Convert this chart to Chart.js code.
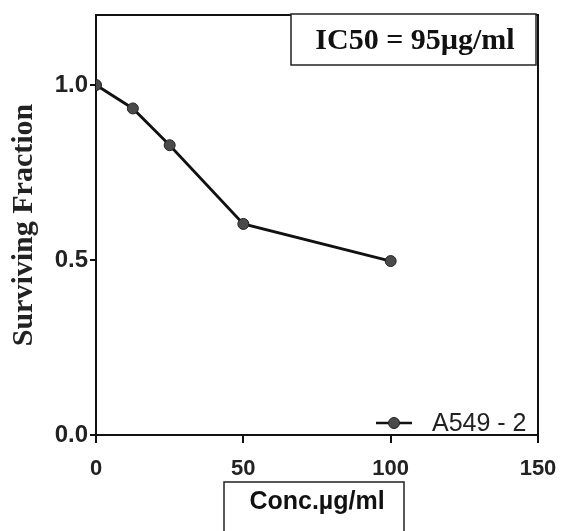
<!DOCTYPE html>
<html lang="en">
<head>
    <meta charset="UTF-8">
    <title>Surviving Fraction - A549</title>
    <script src="https://cdn.jsdelivr.net/npm/chart.js"></script>
    <style>
body {
    margin: 0;
    background: #fff;
}
.wrap {
    width: 562px;
    height: 531px;
}
    </style>
</head>
<body>
    <div class="wrap">
        <canvas id="survChart" width="562" height="531"></canvas>
    </div>
    <script>
        // data
        const conc = [0, 12.5, 25, 50, 100];
        const surviving = [1.0, 0.933, 0.828, 0.603, 0.497];
        const xTicks = [0, 50, 100, 150];
        const yTicks = [0.0, 0.5, 1.0];
        const seriesName = 'A549 - 2';
        const ic50Text = 'IC50 = 95\u00b5g/ml';
        const xTitle = 'Conc.\u00b5g/ml';
        const yTitle = 'Surviving Fraction';

        // frame, IC50 box, box round the x title, and the legend inside the plot
        const extras = {
            id: 'extras',
            afterDraw(chart) {
                const ctx = chart.ctx;
                const a = chart.chartArea;
                ctx.save();
                ctx.strokeStyle = '#111';
                ctx.lineWidth = 2;
                // top + right frame
                ctx.beginPath();
                ctx.moveTo(a.left, a.top);
                ctx.lineTo(a.right, a.top);
                ctx.lineTo(a.right, a.bottom);
                ctx.stroke();

                // IC50 box
                ctx.fillStyle = '#fff';
                ctx.fillRect(291, 14, 245, 51);
                ctx.lineWidth = 1.5;
                ctx.strokeStyle = '#222';
                ctx.strokeRect(291, 14, 245, 51);
                ctx.fillStyle = '#111';
                ctx.font = 'bold 30px "Liberation Serif", "Times New Roman", serif';
                ctx.textAlign = 'center';
                ctx.textBaseline = 'middle';
                ctx.fillText(ic50Text, 415, 41);

                // box round x title
                ctx.strokeStyle = '#222';
                ctx.lineWidth = 1.5;
                ctx.strokeRect(224, 482, 180, 60);

                // legend
                const ds = chart.data.datasets[0];
                const ly = 423;
                ctx.strokeStyle = ds.borderColor;
                ctx.lineWidth = 2.5;
                ctx.beginPath();
                ctx.moveTo(376, ly);
                ctx.lineTo(412, ly);
                ctx.stroke();
                ctx.beginPath();
                ctx.arc(394, ly, 5.5, 0, Math.PI * 2);
                ctx.fillStyle = ds.pointBackgroundColor;
                ctx.fill();
                ctx.lineWidth = 1;
                ctx.strokeStyle = ds.pointBorderColor;
                ctx.stroke();
                ctx.fillStyle = '#222';
                ctx.font = '25px "Liberation Sans", Arial, sans-serif';
                ctx.textAlign = 'left';
                ctx.fillText(ds.label, 432, ly + 1);
                ctx.restore();
            }
        };

        const ctx = document.getElementById('survChart').getContext('2d');
        new Chart(ctx, {
            type: 'scatter',
            data: {
                datasets: [{
                    label: seriesName,
                    data: conc.map((x, i) => ({ x: x, y: surviving[i] })),
                    showLine: true,
                    borderColor: '#111',
                    borderWidth: 2.8,
                    pointRadius: 5.5,
                    pointBackgroundColor: '#4a4a4a',
                    pointBorderColor: '#222',
                    pointBorderWidth: 1
                }]
            },
            options: {
                responsive: false,
                animation: false,
                layout: { padding: { top: 15, right: 24, left: 0, bottom: 0 } },
                plugins: {
                    legend: { display: false },
                    tooltip: { enabled: false }
                },
                scales: {
                    x: {
                        type: 'linear',
                        min: 0,
                        max: 150,
                        afterFit: s => { s.height = 96; s.paddingLeft = 0; s.paddingRight = 0; },
                        afterBuildTicks: s => { s.ticks = xTicks.map(v => ({ value: v })); },
                        grid: { drawOnChartArea: false, color: '#111', tickLength: 8, lineWidth: 2 },
                        border: { color: '#111', width: 2 },
                        ticks: {
                            color: '#222',
                            padding: 13,
                            font: { family: '"Liberation Sans", Arial, sans-serif', size: 22, weight: 'bold' }
                        },
                        title: {
                            display: true,
                            text: xTitle,
                            color: '#111',
                            padding: { top: 0, bottom: 14 },
                            font: { family: '"Liberation Sans", Arial, sans-serif', size: 25, weight: 'bold' }
                        }
                    },
                    y: {
                        min: 0,
                        max: 1.2,
                        afterFit: s => { s.width = 96; s.paddingTop = 0; s.paddingBottom = 0; },
                        afterBuildTicks: s => { s.ticks = yTicks.map(v => ({ value: v })); },
                        grid: { drawOnChartArea: false, color: '#111', tickLength: 6, lineWidth: 2 },
                        border: { color: '#111', width: 2 },
                        ticks: {
                            color: '#222',
                            padding: 2,
                            callback: v => v.toFixed(1),
                            font: { family: '"Liberation Sans", Arial, sans-serif', size: 24, weight: 'bold' }
                        },
                        title: {
                            display: true,
                            text: yTitle,
                            color: '#222',
                            padding: { top: 6, bottom: 0 },
                            font: { family: '"Liberation Serif", "Times New Roman", serif', size: 30, weight: 'bold' }
                        }
                    }
                }
            },
            plugins: [extras]
        });
    </script>
</body>
</html>
